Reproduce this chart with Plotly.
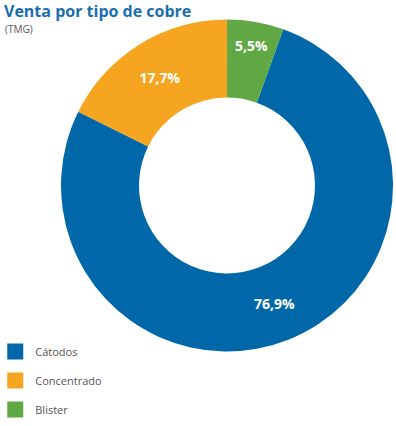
import plotly.graph_objects as go

labels = ["Cátodos", "Concentrado", "Blister"]
values = [76.9, 17.7, 5.5]
colors = ["#0068a8", "#f6a520", "#5fa843"]

W, H = 396, 426
fig = go.Figure()

fig.add_trace(go.Pie(
    labels=labels,
    values=values,
    marker=dict(colors=colors, line=dict(width=0)),
    hole=0.53,
    sort=False,
    direction="clockwise",
    rotation=values[2] * 3.6,
    texttemplate="%{value:.1f}%",
    textposition="inside",
    insidetextorientation="horizontal",
    textfont=dict(family="Open Sans", size=14, color="white", weight="bold"),
    showlegend=False,
    hoverinfo="label+value",
    domain=dict(x=[61 / W, 393 / W], y=[(H - 352) / H, (H - 19) / H]),
))

# legend via dummy traces (larger square symbols, controllable spacing)
for lab, col in zip(labels, colors):
    fig.add_trace(go.Scatter(
        x=[None], y=[None], mode="markers", name=lab,
        marker=dict(symbol="square", size=22, color=col),
        legendgroup=lab, showlegend=True,
    ))

fig.update_layout(
    width=W, height=H,
    margin=dict(l=0, r=0, t=0, b=0, autoexpand=False),
    paper_bgcolor="white", plot_bgcolor="white",
    separators=",.",
    xaxis=dict(visible=False), yaxis=dict(visible=False),
    legend=dict(
        x=-0.012, y=1 - 337 / H, xanchor="left", yanchor="top",
        itemsizing="trace", tracegroupgap=10,
        font=dict(family="Open Sans", size=11, color="#555555"),
        bgcolor="rgba(0,0,0,0)",
    ),
    annotations=[
        dict(text="<b>Venta por tipo de cobre</b>", x=2 / W, y=1 + 2 / H,
             xref="paper", yref="paper", xanchor="left", yanchor="top",
             showarrow=False, font=dict(family="Open Sans", size=16, color="#1a6ead")),
        dict(text="(TMG)", x=3 / W, y=1 - 20 / H,
             xref="paper", yref="paper", xanchor="left", yanchor="top",
             showarrow=False, font=dict(family="Open Sans", size=10, color="#555555")),
    ],
)

fig.write_html("out.html", post_script="document.body.style.margin='0';",
               config={"displayModeBar": False})
